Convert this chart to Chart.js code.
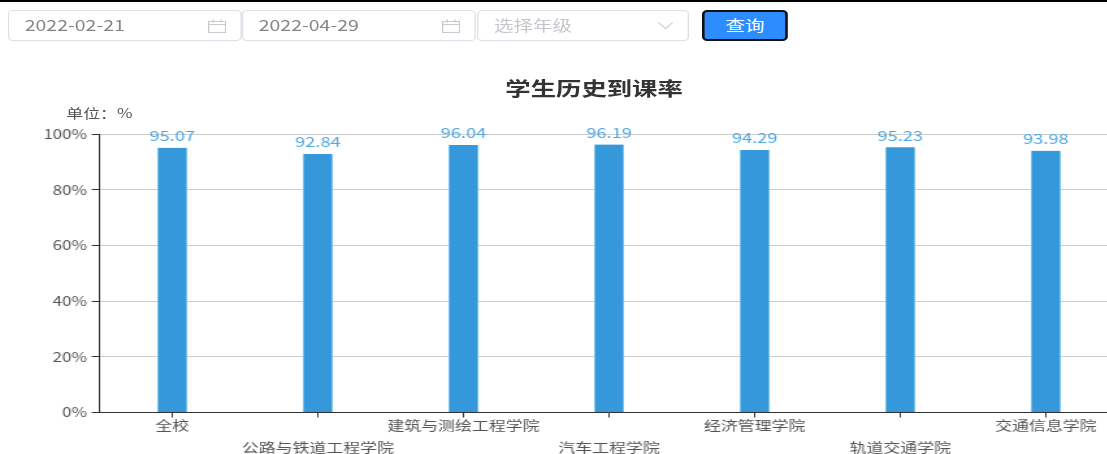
<!DOCTYPE html>
<html>
<head>
<meta charset="utf-8">
<script src="https://cdn.jsdelivr.net/npm/chart.js@4"></script>
<style>
html, body { margin: 0; padding: 0; width: 1107px; height: 454px; overflow: hidden; background: #fff; }
#page { position: absolute; left: 0; top: 0; width: 914px; height: 454px; transform: scaleX(1.3); transform-origin: left top; font-family: "Noto Sans CJK SC", sans-serif; }
#topline { position: absolute; left: 0; top: 0; width: 100%; height: 2px; background: #000; }
.box { position: absolute; top: 10px; height: 31px; box-sizing: border-box; border: 1px solid #dcdfe6; border-radius: 4px; font-size: 15px; line-height: 28px; color: #858585; padding-left: 12px; }
.box svg { position: absolute; right: 11px; top: 8px; }
#d1 { left: 6px; width: 180px; }
#d2 { left: 186px; width: 180px; }
#sel { left: 367px; width: 163px; color: #c4c6cb; }
#btn { position: absolute; left: 540px; top: 10px; width: 66px; height: 31px; box-sizing: border-box; background: #2d8cff; border: 2px solid #111; border-radius: 4px; color: #fff; font-size: 15px; line-height: 26px; text-align: center; }
#titulo { position: absolute; left: 0; top: 76px; width: 100%; text-align: center; font-size: 19.5px; line-height: 24px; font-weight: bold; color: #333; }
#unit { position: absolute; left: 51px; top: 103px; font-size: 13px; color: #555; }
canvas { position: absolute; left: 0; top: 0; }
</style>
</head>
<body>
<div id="page">
  <canvas id="grafico" width="914" height="454"></canvas>
  <div id="topline"></div>
  <div class="box" id="d1">2022-02-21<svg width="14" height="14" viewBox="0 0 14 14" fill="none" stroke="#c8cacf"><path d="M.5 2.5h13v11H.5zM.5 5.5h13M4 .5v3M10 .5v3"/></svg></div>
  <div class="box" id="d2">2022-04-29<svg width="14" height="14" viewBox="0 0 14 14" fill="none" stroke="#c8cacf"><path d="M.5 2.5h13v11H.5zM.5 5.5h13M4 .5v3M10 .5v3"/></svg></div>
  <div class="box" id="sel">选择年级<svg width="12" height="14" viewBox="0 0 12 14" fill="none" stroke="#c8cacf"><path d="M.5 3.5L6 9.5l5.5-6"/></svg></div>
  <div id="btn">查询</div>
  <div id="titulo"></div>
  <div id="unit">单位：%</div>
</div>
<script>
var categorias = ['全校', '公路与铁道工程学院', '建筑与测绘工程学院', '汽车工程学院', '经济管理学院', '轨道交通学院', '交通信息学院'];
var valores = [95.07, 92.84, 96.04, 96.19, 94.29, 95.23, 93.98];
var titulo = '学生历史到课率';

document.getElementById('titulo').textContent = titulo;

// values above each bar
var etiquetas = {
    id: 'etiquetas',
    afterDatasetsDraw: function (chart) {
        var ctx = chart.ctx;
        var meta = chart.getDatasetMeta(0);
        ctx.save();
        ctx.font = '14px "Noto Sans CJK SC"';
        ctx.fillStyle = '#4fa8e3';
        ctx.textAlign = 'center';
        ctx.textBaseline = 'bottom';
        meta.data.forEach(function (bar, i) {
            ctx.fillText(valores[i], bar.x, bar.y - 5);
        });
        ctx.restore();
    }
};

var ctx = document.getElementById('grafico').getContext('2d');
var grafico = new Chart(ctx, {
    type: 'bar',
    data: {
        labels: categorias,
        datasets: [{
            data: valores,
            backgroundColor: '#3498db',
            borderColor: '#7cc2ee',
            borderWidth: { left: 1, right: 1, top: 0, bottom: 0 },
            barThickness: 22.5
        }]
    },
    options: {
        responsive: false,
        animation: false,
        layout: { padding: { top: 134, right: 53.5, bottom: 0, left: 0 } },
        plugins: {
            legend: { display: false },
            tooltip: { enabled: false }
        },
        scales: {
            x: {
                afterFit: function (scale) { scale.height = 41.5; },
                border: { color: '#333' },
                grid: { offset: false, drawOnChartArea: false, tickColor: '#333', tickLength: 5 },
                ticks: {
                    autoSkip: false,
                    maxRotation: 0,
                    minRotation: 0,
                    padding: -4,
                    color: '#555',
                    font: { family: '"Noto Sans CJK SC"', size: 13, lineHeight: 1.72 },
                    callback: function (v, i) {
                        return i % 2 ? ['', categorias[i]] : categorias[i];
                    }
                }
            },
            y: {
                min: 0,
                max: 100,
                afterFit: function (scale) { scale.width = 76.5; },
                border: { color: '#333' },
                grid: { color: '#ccc', tickColor: '#333', tickLength: 6 },
                ticks: {
                    stepSize: 20,
                    padding: 3.5,
                    color: '#555',
                    font: { family: '"Noto Sans CJK SC"', size: 13 },
                    callback: function (v) { return v + '%'; }
                }
            }
        }
    },
    plugins: [etiquetas]
});
</script>
</body>
</html>
